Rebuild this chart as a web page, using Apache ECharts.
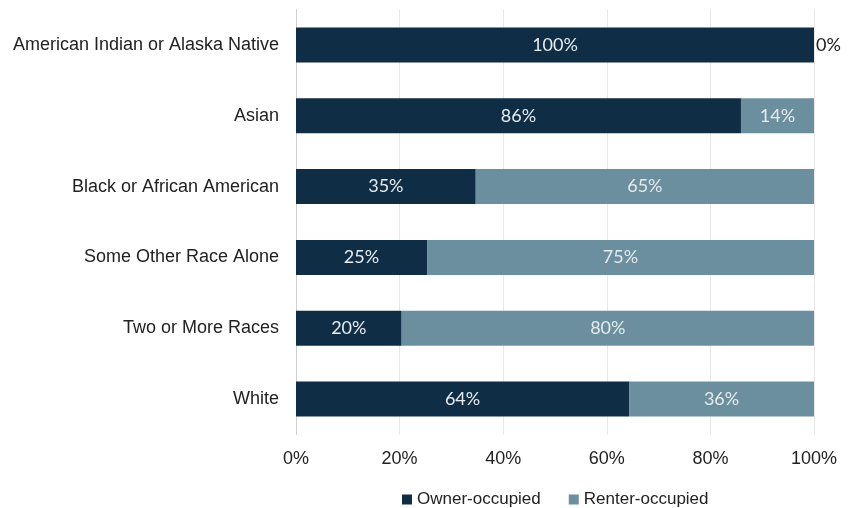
<!DOCTYPE html>
<html>
<head>
<meta charset="utf-8">
<script src="https://cdn.jsdelivr.net/npm/echarts@6/dist/echarts.min.js"></script>
<style>
  html, body { margin: 0; padding: 0; background: #fff; }
  #chart { width: 852px; height: 508px; }
</style>
</head>
<body>
<div id="chart"></div>
<script>
// categories listed bottom -> top for the category axis
var categories = ['White', 'Two or More Races', 'Some Other Race Alone',
  'Black or African American', 'Asian', 'American Indian or Alaska Native'];
var ownerOccupied = [64.3, 20.4, 25.3, 34.7, 85.9, 100];
var renterOccupied = [35.7, 79.6, 74.7, 65.3, 14.1, 0];
var xTicks = [0, 20, 40, 60, 80, 100];

var chart = echarts.init(document.getElementById('chart'));

var axisFont = 'Liberation Sans';

function pct(p) { return Math.round(p.value) + '%'; }

chart.setOption({
  backgroundColor: '#ffffff',
  animation: false,
  grid: { left: 296, right: 38, top: 9.5, bottom: 73.5 },
  legend: {
    top: 486,
    left: 397,
    itemWidth: 10,
    itemHeight: 10,
    itemGap: 28,
    icon: 'rect',
    textStyle: { fontFamily: axisFont, fontSize: 17, color: '#222' },
    data: ['Owner-occupied', 'Renter-occupied']
  },
  xAxis: {
    type: 'value',
    min: 0,
    max: 100,
    interval: 20,
    axisLine: { show: false },
    axisTick: { show: false },
    splitLine: { lineStyle: { color: '#e8e8e8', width: 1 } },
    axisLabel: {
      margin: 16,
      fontFamily: axisFont,
      fontSize: 18,
      color: '#222',
      formatter: function (v) { return xTicks.indexOf(v) >= 0 ? v + '%' : ''; }
    }
  },
  yAxis: {
    type: 'category',
    data: categories,
    axisLine: { show: true, lineStyle: { color: '#d0d0d0', width: 1 } },
    axisTick: { show: false },
    axisLabel: {
      margin: 17,
      fontFamily: axisFont,
      fontSize: 18,
      color: '#222'
    }
  },
  series: [
    {
      name: 'Owner-occupied',
      type: 'bar',
      stack: 'total',
      barWidth: 35,
      itemStyle: { color: '#0f2d45' },
      label: {
        show: true,
        position: 'inside',
        color: '#e6ecf0',
        fontFamily: 'Lato',
        fontSize: 18,
        formatter: pct
      },
      data: ownerOccupied
    },
    {
      name: 'Renter-occupied',
      type: 'bar',
      stack: 'total',
      barWidth: 35,
      itemStyle: { color: '#6c8f9f' },
      label: {
        show: true,
        position: 'inside',
        color: '#e4ebee',
        fontFamily: 'Lato',
        fontSize: 18,
        formatter: pct
      },
      data: renterOccupied.map(function (v) {
        if (v === 0) {
          return { value: v, label: { position: 'right', distance: 2, color: '#222' } };
        }
        return v;
      })
    }
  ]
});
</script>
</body>
</html>
